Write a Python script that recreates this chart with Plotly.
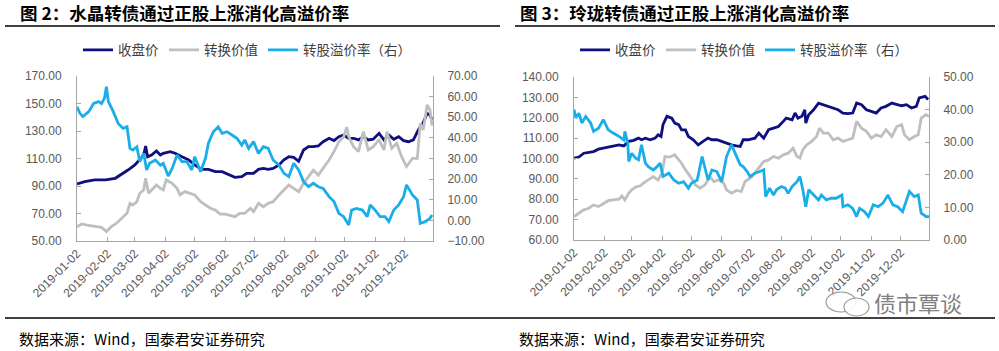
import pandas as pd
import plotly.graph_objects as go

# ---------------- data ----------------
BASE = "2019-01-02"          # day offsets below are days since this date
month_ticks = ["2019-01-02", "2019-02-02", "2019-03-02", "2019-04-02", "2019-05-02", "2019-06-02",
               "2019-07-02", "2019-08-02", "2019-09-02", "2019-10-02", "2019-11-02", "2019-12-02"]
series_names = ["收盘价", "转换价值", "转股溢价率（右）"]

# 水晶转债
sj_close_day = [0, 8, 18, 29, 39, 46, 52, 59, 64, 68, 70, 72, 76, 81, 85, 88, 95, 100, 107, 114,
                120, 127, 134, 141, 148, 153, 161, 168, 173, 180, 185, 190, 195, 200, 206, 211, 216, 221, 226, 231,
                236, 241, 246, 251, 257, 262, 267, 272, 277, 282, 287, 292, 297, 302, 308, 313, 318, 323, 328, 333,
                338, 343, 348, 353, 357, 360, 362]
sj_close = [91.5, 93.2, 94.4, 94.4, 95.6, 98.7, 101.6, 105.3, 109, 112.5, 119, 111.3, 112.5, 115.5, 112.5, 113.8, 115, 113.8, 111.3, 109,
            105.3, 102.1, 102.1, 100.4, 100.4, 98.7, 96.3, 96.8, 99.2, 99.2, 102.1, 102.8, 102.1, 102.8, 105.3, 109, 111.3, 110.8, 108, 116.2,
            118.6, 118.6, 119.1, 122.2, 124.7, 123, 125.9, 127.1, 124.7, 124.7, 123.5, 125.9, 123.5, 124, 128.3, 123.5, 127.1, 124, 125.9, 123,
            122.2, 123.5, 130.7, 136.1, 142.8, 141.6, 138]
sj_conv_day = [0, 5, 10, 15, 20, 25, 30, 35, 40, 46, 51, 54, 57, 61, 64, 68, 70, 73, 78, 81,
               85, 88, 91, 97, 102, 105, 110, 115, 120, 126, 131, 136, 141, 146, 151, 156, 161, 166, 171, 177,
               180, 185, 190, 195, 200, 206, 211, 216, 221, 226, 231, 236, 241, 246, 251, 257, 262, 267, 272, 275,
               277, 282, 287, 292, 297, 302, 308, 313, 316, 321, 326, 331, 336, 342, 347, 350, 353, 357, 360, 362]
sj_conv = [60.4, 62.4, 61.6, 60.9, 60.4, 59.9, 56.8, 60.4, 62.8, 66.5, 70.1, 77.4, 76.2, 78.6, 84.7, 87.1, 95.6, 84.7, 88.3, 90.7,
           88.3, 87.1, 94.4, 91.9, 88.3, 83.5, 85.9, 84.7, 83.5, 78.6, 76.2, 73.8, 72.5, 69.6, 69.6, 68.9, 67.7, 70.1, 70.1, 73.8,
           71.3, 77.4, 74.9, 77.4, 78.6, 83.5, 87.1, 90.7, 88.3, 85.9, 91.9, 96.8, 101.6, 98, 102.8, 108.9, 115, 122.2, 125.9, 132.7,
           125.9, 118.6, 115, 129.5, 116.2, 118.6, 123.5, 116.2, 129.5, 117.4, 121, 111.3, 104.1, 110.1, 110.1, 135.6, 130.7, 148.9, 145.3, 134]
sj_prem_day = [0, 3, 6, 12, 17, 22, 25, 28, 30, 32, 37, 42, 47, 51, 54, 57, 61, 64, 68, 71,
               74, 80, 85, 88, 93, 97, 102, 107, 112, 117, 120, 126, 131, 134, 139, 144, 148, 153, 158, 163,
               168, 171, 175, 180, 185, 190, 195, 200, 206, 211, 216, 221, 226, 231, 236, 241, 246, 251, 257, 262,
               267, 272, 277, 280, 285, 291, 296, 299, 304, 309, 314, 318, 323, 328, 333, 336, 342, 347, 350, 355,
               360, 362]
sj_prem = [55.1, 51.9, 50.3, 52.7, 56.7, 57.6, 56.7, 59.2, 64.8, 57.6, 52.7, 47, 44.6, 45.4, 34.9, 34.1, 35.7, 28.5, 32.5, 24.4,
           27.7, 29.3, 26.8, 27.7, 21.5, 25.2, 31.7, 28.5, 28.5, 24.4, 30.9, 23.6, 30.1, 37.4, 43, 45.4, 42.2, 43, 41.4, 39.8,
           36.5, 39, 34.9, 38.2, 32.5, 35.7, 34.9, 29.3, 26.8, 22.8, 21.2, 27.7, 24.4, 18.8, 16.3, 18, 16.3, 15.5, 11.5, 9.1,
           3.4, 1.8, -2.2, 5, 5.8, 5, 1.8, 7.5, 5, 1.8, 1.8, -0.6, 5, 7.5, 11.5, 17.2, 12.3, 9.9, -1.4, -0.6,
           1, 2.6]

# 玲珑转债
ll_close_day = [0, 5, 10, 15, 20, 25, 30, 35, 40, 46, 51, 56, 61, 66, 69, 73, 78, 83, 86, 89,
                91, 95, 100, 103, 107, 110, 114, 117, 122, 127, 132, 137, 141, 146, 151, 156, 161, 166, 170, 173,
                178, 185, 189, 194, 199, 204, 209, 214, 217, 223, 226, 229, 233, 236, 237, 240, 245, 250, 255,
                260, 265, 270, 275, 280, 285, 289, 294, 299, 304, 309, 314, 319, 325, 330, 335, 340, 345, 350, 353,
                359, 362]
ll_close = [100.2, 100.7, 102.6, 103, 103.4, 104.6, 105.1, 105.4, 105.9, 106.7, 106.2, 108.4, 108.9, 110, 109.2, 110, 109.2, 110, 111.6, 110.8,
            116.6, 120.7, 119.8, 117.4, 116.6, 114, 114, 110.8, 109.2, 106.7, 108.4, 110, 109.2, 109.2, 108.4, 107.5, 106.7, 106.2, 105.9, 109.2,
            109.2, 110, 112.5, 110, 114.1, 114.9, 115.7, 118.2, 119.8, 119, 122.3, 119.8, 120.7, 123.9, 117.4, 121.5, 123.9, 127.2, 126.4,
            125.6, 124.8, 123.9, 122.3, 122, 122.3, 127.2, 126.4, 123.9, 123.1, 122.3, 124.8, 125.6, 127.2, 126.4, 125.9, 126.4, 124.8, 125.6, 129.7,
            130.5, 128.9]
ll_conv_day = [0, 5, 10, 15, 20, 25, 30, 35, 40, 46, 49, 52, 56, 59, 64, 68, 71, 76, 81, 86,
               90, 93, 98, 103, 107, 110, 114, 119, 124, 129, 134, 139, 143, 148, 153, 156, 161, 166, 171, 175,
               182, 187, 194, 199, 204, 209, 214, 219, 224, 228, 231, 234, 238, 243, 248, 251, 255, 260, 265, 270,
               275, 280, 285, 289, 294, 299, 304, 309, 314, 319, 325, 330, 335, 338, 343, 348, 352, 355, 360, 363]
ll_conv = [71.5, 73.1, 74.8, 75.6, 77.2, 76.4, 78, 79.3, 79.7, 80, 81.6, 79.7, 83, 84.6, 86.2, 86.6, 87.9, 89.5, 91.1, 89.5,
           92.8, 101, 100.7, 101.8, 99.3, 97.7, 94.4, 91.1, 87.1, 85.4, 87.1, 91.1, 88.7, 89.5, 87.9, 84.6, 83, 84.3, 83.8, 88.7,
           91.1, 94.4, 98.5, 99.3, 101, 100.2, 101.8, 102.6, 105.1, 101, 100.2, 104.3, 106.7, 108.4, 110.8, 114.9, 112.5, 112.5, 109.2, 110,
           108.4, 109.2, 110, 118.2, 114.9, 113.3, 110, 111.6, 110.8, 114.1, 110.8, 115.7, 116.6, 111.6, 109.2, 110.8, 111.6, 119.8, 121.5, 120.7]
ll_prem_day = [0, 2, 5, 8, 12, 17, 20, 25, 30, 35, 40, 46, 51, 52, 55, 56, 59, 63, 66, 69,
               73, 76, 81, 85, 88, 91, 97, 102, 107, 112, 117, 120, 126, 131, 134, 137, 141, 146, 151, 156,
               161, 166, 170, 173, 177, 180, 185, 190, 194, 196, 200, 204, 207, 212, 216, 219, 223, 228, 231, 234,
               237, 240, 245, 250, 253, 258, 263, 268, 274, 275, 280, 285, 289, 292, 297, 301, 306, 311, 316, 321,
               326, 331, 336, 340, 343, 348, 352, 355, 360, 363]
ll_prem = [40, 37.4, 38.9, 35.9, 37.9, 35.9, 33.3, 34.3, 36.9, 33.8, 32.8, 31.8, 30.7, 33.3, 29.7, 24.1, 26.6, 25.1, 24.6, 29.2,
           23.6, 22.5, 21.5, 22.5, 23.6, 19.5, 20.5, 18.4, 17.4, 17.9, 15.9, 17.4, 18.4, 25.6, 22, 18.4, 21.5, 21, 17.9, 25.6,
           29.2, 26.1, 23.1, 22.5, 21, 19.5, 20.5, 21, 21.5, 13.3, 15.9, 13.8, 15.4, 16.4, 15.9, 14.3, 16.4, 17.9, 19.5, 15.4,
           10.2, 15.4, 13.8, 12.3, 13.8, 12.3, 12.8, 12.8, 13.8, 10.2, 10.8, 9.7, 7.2, 9.7, 8.7, 7.2, 10.8, 10.2, 11.3, 13.8,
           10.8, 10.2, 8.7, 12.3, 14.9, 13.3, 13.8, 8.2, 7.2, 7.2]

titles = ["图 2：水晶转债通过正股上涨消化高溢价率", "图 3：玲珑转债通过正股上涨消化高溢价率"]
source_text = "数据来源：Wind，国泰君安证券研究"
watermark = "债市覃谈"


def to_dates(days):
    return list(pd.Timestamp(BASE) + pd.to_timedelta(days, unit="D"))


# ---------------- figure ----------------
W, H = 999, 351
NAVY, GRAY, BLUE = "#0F0F80", "#BFBFBF", "#1AAEE8"
LW = 2.8

fig = go.Figure()
charts = [
    (sj_close_day, sj_close, sj_conv_day, sj_conv, sj_prem_day, sj_prem, "x", "y", "y2", "legend"),
    (ll_close_day, ll_close, ll_conv_day, ll_conv, ll_prem_day, ll_prem, "x2", "y3", "y4", "legend2"),
]
for cd, cv, vd, vv, pd_, pv, xa, ya, ya2, lg in charts:
    fig.add_trace(go.Scatter(x=to_dates(cd), y=cv, name=series_names[0], mode="lines",
                             line=dict(color=NAVY, width=LW), xaxis=xa, yaxis=ya, legend=lg))
    fig.add_trace(go.Scatter(x=to_dates(vd), y=vv, name=series_names[1], mode="lines",
                             line=dict(color=GRAY, width=LW), xaxis=xa, yaxis=ya, legend=lg))
    fig.add_trace(go.Scatter(x=to_dates(pd_), y=pv, name=series_names[2], mode="lines",
                             line=dict(color=BLUE, width=LW), xaxis=xa, yaxis=ya2, legend=lg))

tickfont = dict(family="Liberation Sans, Arial, sans-serif", size=12, color="#595959")
ax = dict(showline=True, linecolor="#A6A6A6", linewidth=1, ticks="inside", ticklen=4,
          tickcolor="#A6A6A6", showgrid=False, zeroline=False, tickfont=tickfont, automargin=False)
x_end = str((pd.Timestamp(BASE) + pd.Timedelta(days=363)).date())
xcommon = dict(ax, type="date", range=[BASE, x_end], tickvals=month_ticks, ticktext=month_ticks,
               tickangle=-45)


def px_x(v):
    return v / W


def px_y(v):
    return 1 - v / H


legend_font = dict(family="Noto Sans CJK SC", size=13.5, color="#404040")
fig.update_layout(
    width=W, height=H, margin=dict(l=0, r=0, t=0, b=0, autoexpand=False),
    paper_bgcolor="white", plot_bgcolor="white",
    xaxis=dict(xcommon, domain=[px_x(77), px_x(433)], anchor="y"),
    yaxis=dict(ax, domain=[px_y(241), px_y(76)], anchor="x", range=[50, 170], dtick=20, tick0=50,
               tickformat=".2f", ticklabelstandoff=12),
    yaxis2=dict(ax, overlaying="y", side="right", anchor="x", range=[-10, 70], dtick=10, tick0=-10,
                tickformat=".2f", ticklabelstandoff=11),
    xaxis2=dict(xcommon, domain=[px_x(574), px_x(929)], anchor="y3"),
    yaxis3=dict(ax, domain=[px_y(240), px_y(77)], anchor="x2", range=[60, 140], dtick=10, tick0=60,
                tickformat=".2f", ticklabelstandoff=12),
    yaxis4=dict(ax, overlaying="y3", side="right", anchor="x2", range=[0, 50], dtick=10, tick0=0,
                tickformat=".2f", ticklabelstandoff=11),
    legend=dict(orientation="h", x=px_x(78), y=px_y(50), xanchor="left", yanchor="middle",
                font=legend_font, bgcolor="rgba(0,0,0,0)", itemwidth=30),
    legend2=dict(orientation="h", x=px_x(575), y=px_y(50), xanchor="left", yanchor="middle",
                 font=legend_font, bgcolor="rgba(0,0,0,0)", itemwidth=30),
)

annotations = []
for tx, left in zip(titles, [18, 518]):
    annotations.append(dict(text="<b>" + tx + "</b>", x=px_x(left), y=px_y(13), xref="paper", yref="paper",
                            xanchor="left", yanchor="middle", showarrow=False,
                            font=dict(family="Noto Sans CJK SC", size=17.5, color="#000000")))
for left in [17, 517]:
    annotations.append(dict(text=source_text, x=px_x(left), y=px_y(338), xref="paper", yref="paper",
                            xanchor="left", yanchor="middle", showarrow=False,
                            font=dict(family="Noto Sans CJK SC", size=15, color="#000000")))
annotations.append(dict(text=watermark, x=px_x(872), y=px_y(302), xref="paper", yref="paper",
                        xanchor="left", yanchor="middle", showarrow=False,
                        font=dict(family="Noto Sans CJK SC", size=22, color="#808080")))
fig.update_layout(annotations=annotations)

shapes = [
    dict(type="line", xref="paper", yref="paper", x0=px_x(5), x1=px_x(500), y0=px_y(26), y1=px_y(26),
         line=dict(color="black", width=1.5)),
    dict(type="line", xref="paper", yref="paper", x0=px_x(515), x1=px_x(995), y0=px_y(26), y1=px_y(26),
         line=dict(color="black", width=1.5)),
    dict(type="line", xref="paper", yref="paper", x0=px_x(5), x1=px_x(995), y0=px_y(318), y1=px_y(318),
         line=dict(color="black", width=1.5)),
    # WeChat-like icon of the watermark
    dict(type="circle", xref="paper", yref="paper", x0=px_x(826), x1=px_x(856), y0=px_y(312), y1=px_y(292),
         line=dict(color="#9A9A9A", width=1.2), fillcolor="rgba(255,255,255,0.8)"),
    dict(type="circle", xref="paper", yref="paper", x0=px_x(844), x1=px_x(869), y0=px_y(316), y1=px_y(298),
         line=dict(color="#9A9A9A", width=1.2), fillcolor="rgba(255,255,255,0.9)"),
]
fig.update_layout(shapes=shapes)

fig.write_html("out.html")
